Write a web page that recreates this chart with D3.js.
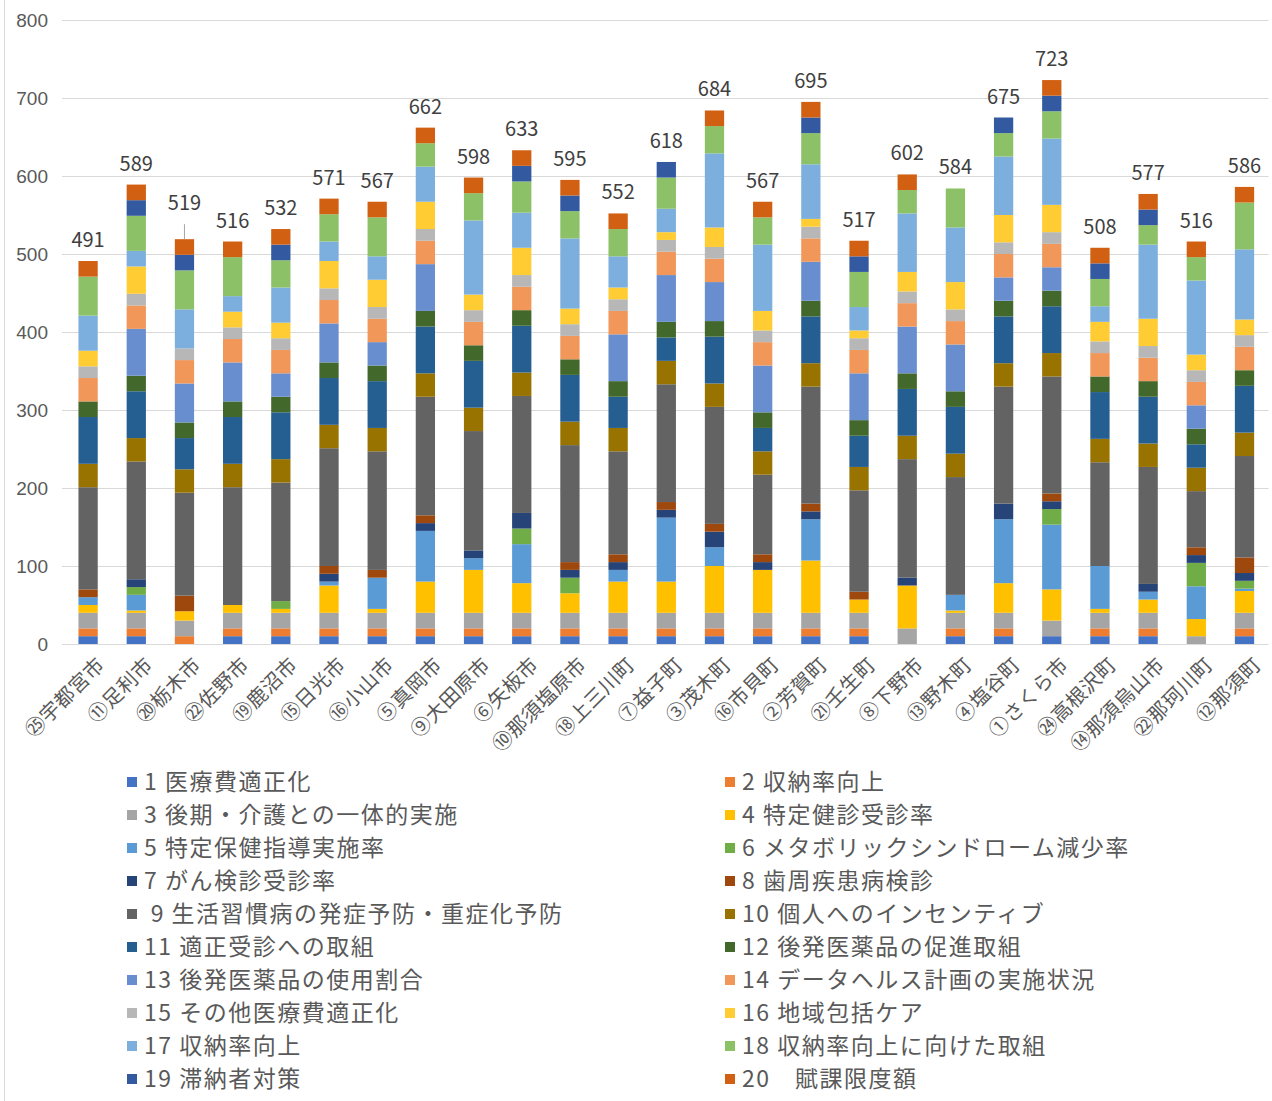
<!DOCTYPE html>
<html lang="ja">
<head>
<meta charset="UTF-8">
<title>市町別 積み上げ得点</title>
<script src="https://cdn.jsdelivr.net/npm/d3@7"></script>
<style>
    body { margin: 0; background: #fff; }
    svg { font-family: "Noto Sans CJK JP", "Noto Sans", sans-serif; }
    .grid line { stroke: #d9d9d9; stroke-width: 1; }
    .grid path { display: none; }
    .grid text { fill: #595959; font-size: 19px; }
    .xlab text { fill: #595959; font-size: 20px; letter-spacing: 0.5px; }
    .total { fill: #404040; font-size: 20px; text-anchor: middle; }
    .legend text { fill: #595959; font-size: 23px; letter-spacing: 1.5px; white-space: pre; }
</style>
</head>
<body>
<svg id="chart" width="1272" height="1101"></svg>
<script>
const cities = ['㉕宇都宮市', '⑪足利市', '⑳栃木市', '㉒佐野市', '⑲鹿沼市', '⑮日光市', '⑯小山市',
    '⑤真岡市', '⑨大田原市', '⑥矢板市', '⑩那須塩原市', '⑱上三川町', '⑦益子町', '③茂木町',
    '⑯市貝町', '②芳賀町', '㉑壬生町', '⑧下野市', '⑬野木町', '④塩谷町', '①さくら市',
    '㉔高根沢町', '⑭那須烏山市', '㉒那珂川町', '⑫那須町'];

// one array per legend item, in bar order
const s01 = [10, 10, 0, 10, 10, 10, 10, 10, 10, 10, 10, 10, 10, 10, 10, 10, 10, 0, 10, 10, 10, 10, 10, 0, 10];
const s02 = [10, 10, 10, 10, 10, 10, 10, 10, 10, 10, 10, 10, 10, 10, 10, 10, 10, 0, 10, 10, 0, 10, 10, 0, 10];
const s03 = [20, 20, 20, 20, 20, 20, 20, 20, 20, 20, 20, 20, 20, 20, 20, 20, 20, 20, 20, 20, 20, 20, 20, 10, 20];
const s04 = [10, 3, 12, 10, 5, 35, 5, 40, 55, 38, 25, 40, 40, 60, 55, 67, 17, 55, 3, 38, 40, 5, 17, 22, 28];
const s05 = [10, 20, 0, 0, 0, 5, 40, 65, 15, 50, 0, 15, 82, 24, 0, 53, 0, 0, 20, 82, 83, 55, 10, 42, 3];
const s06 = [0, 10, 0, 0, 10, 0, 0, 0, 0, 20, 20, 0, 0, 0, 0, 0, 0, 0, 0, 0, 20, 0, 0, 30, 10];
const s07 = [0, 10, 0, 0, 0, 10, 0, 10, 10, 20, 10, 10, 10, 20, 10, 10, 0, 10, 0, 20, 10, 0, 10, 10, 10];
const s08 = [10, 0, 20, 0, 0, 10, 10, 10, 0, 0, 10, 10, 10, 10, 10, 10, 10, 0, 0, 0, 10, 0, 0, 10, 20];
const s09 = [131, 151, 132, 151, 152, 151, 152, 152, 153, 150, 150, 132, 151, 150, 102, 150, 130, 152, 151, 150, 150, 133, 150, 72, 130];
const s10 = [30, 30, 30, 30, 30, 30, 30, 30, 30, 30, 30, 30, 30, 30, 30, 30, 30, 30, 30, 30, 30, 30, 30, 30, 30];
const s11 = [60, 60, 40, 60, 60, 60, 60, 60, 60, 60, 60, 40, 30, 60, 30, 60, 40, 60, 60, 60, 60, 60, 60, 30, 60];
const s12 = [20, 20, 20, 20, 20, 20, 20, 20, 20, 20, 20, 20, 20, 20, 20, 20, 20, 20, 20, 20, 20, 20, 20, 20, 20];
const s13 = [0, 60, 50, 50, 30, 50, 30, 60, 0, 0, 0, 60, 60, 50, 60, 50, 60, 60, 60, 30, 30, 0, 0, 30, 0];
const s14 = [30, 30, 30, 30, 30, 30, 30, 30, 30, 30, 30, 30, 30, 30, 30, 30, 30, 30, 30, 30, 30, 30, 30, 30, 30];
const s15 = [15, 15, 15, 15, 15, 15, 15, 15, 15, 15, 15, 15, 15, 15, 15, 15, 15, 15, 15, 15, 15, 15, 15, 15, 15];
const s16 = [20, 35, 0, 20, 20, 35, 35, 35, 20, 35, 20, 15, 10, 25, 25, 10, 10, 25, 35, 35, 35, 25, 35, 20, 20];
const s17 = [45, 20, 50, 20, 45, 25, 30, 45, 95, 45, 90, 40, 30, 95, 85, 70, 30, 75, 70, 75, 85, 20, 95, 95, 90];
const s18 = [50, 45, 50, 50, 35, 35, 50, 30, 35, 40, 35, 35, 40, 35, 35, 40, 45, 30, 50, 30, 35, 35, 25, 30, 60];
const s19 = [0, 20, 20, 0, 20, 0, 0, 0, 0, 20, 20, 0, 20, 0, 0, 20, 20, 0, 0, 20, 20, 20, 20, 0, 0];
const s20 = [20, 20, 20, 20, 20, 20, 20, 20, 20, 20, 20, 20, 0, 20, 20, 20, 20, 20, 0, 0, 20, 20, 20, 20, 20];

const seriesNames = ['1 医療費適正化', '2 収納率向上', '3 後期・介護との一体的実施', '4 特定健診受診率',
    '5 特定保健指導実施率', '6 メタボリックシンドローム減少率', '7 がん検診受診率', '8 歯周疾患病検診',
    ' 9 生活習慣病の発症予防・重症化予防', '10 個人へのインセンティブ', '11 適正受診への取組', '12 後発医薬品の促進取組',
    '13 後発医薬品の使用割合', '14 データヘルス計画の実施状況', '15 その他医療費適正化', '16 地域包括ケア',
    '17 収納率向上', '18 収納率向上に向けた取組', '19 滞納者対策', '20　賦課限度額'];

const seriesColors = ['#4472C4', '#ED7D31', '#A5A5A5', '#FFC000', '#5B9BD5', '#70AD47', '#264478', '#9E480E',
    '#636363', '#997300', '#255E91', '#43682B', '#698ED0', '#F1975A', '#B7B7B7', '#FFCD33',
    '#7CAFDD', '#8CC168', '#335AA1', '#D26012'];

const yTicks = [0, 100, 200, 300, 400, 500, 600, 700, 800];

const series = [s01, s02, s03, s04, s05, s06, s07, s08, s09, s10, s11, s12, s13, s14, s15, s16, s17, s18, s19, s20];
const keys = series.map((s, j) => 'k' + j);
const rows = cities.map((c, i) => {
    const r = { city: c };
    series.forEach((s, j) => { r['k' + j] = s[i]; });
    return r;
});
const totals = rows.map(r => d3.sum(keys, k => r[k]));

const svg = d3.select('#chart');
const plotLeft = 64, plotRight = 1268.6, plotTop = 20, plotBottom = 644;

const x = d3.scaleBand().domain(cities).range([plotLeft, plotRight]).paddingInner(0.6).paddingOuter(0.3);
const y = d3.scaleLinear().domain([0, 800]).range([plotBottom, plotTop]);
const color = d3.scaleOrdinal().domain(keys).range(seriesColors);

// left edge of chart frame
svg.append('line').attr('x1', 4.5).attr('x2', 4.5).attr('y1', 0).attr('y2', 1101)
    .attr('stroke', '#d9d9d9');

// gridlines + y labels
svg.append('g')
    .attr('class', 'grid')
    .attr('transform', `translate(${plotLeft - 2},0)`)
    .call(d3.axisLeft(y).tickValues(yTicks).tickSize(-(plotRight - plotLeft + 2)).tickPadding(14))
    .call(g => g.selectAll('text').attr('dy', '0.35em'));

// stacked bars
const stacked = d3.stack().keys(keys)(rows);
svg.append('g')
    .selectAll('g')
    .data(stacked)
    .join('g')
    .attr('fill', d => color(d.key))
    .selectAll('rect')
    .data(d => d)
    .join('rect')
    .attr('x', d => x(d.data.city))
    .attr('y', d => y(d[1]))
    .attr('width', x.bandwidth())
    .attr('height', d => y(d[0]) - y(d[1]));

// totals (栃木市 label sits higher with a leader line)
const lifted = { '⑳栃木市': 15 };
svg.append('g')
    .selectAll('text')
    .data(cities)
    .join('text')
    .attr('class', 'total')
    .attr('x', c => x(c) + x.bandwidth() / 2)
    .attr('y', (c, i) => y(totals[i]) - 14 - (lifted[c] || 0))
    .text((c, i) => totals[i]);

Object.keys(lifted).forEach(c => {
    const i = cities.indexOf(c);
    const cx = x(c) + x.bandwidth() / 2;
    svg.append('line')
        .attr('x1', cx).attr('x2', cx)
        .attr('y1', y(totals[i]) - lifted[c]).attr('y2', y(totals[i]))
        .attr('stroke', '#a6a6a6');
});

// x labels, rotated
svg.append('g')
    .attr('class', 'xlab')
    .selectAll('text')
    .data(cities)
    .join('text')
    .attr('transform', c => `translate(${x(c) + x.bandwidth() / 2 + 8},656) rotate(-45)`)
    .attr('text-anchor', 'end')
    .attr('dy', '0.7em')
    .text(c => c);

// legend, two columns
const legend = svg.append('g').attr('class', 'legend');
seriesNames.forEach((name, i) => {
    const lx = i % 2 === 0 ? 127 : 725;
    const ly = 782 + Math.floor(i / 2) * 33;
    legend.append('rect')
        .attr('x', lx).attr('y', ly - 5)
        .attr('width', 10).attr('height', 10)
        .attr('fill', seriesColors[i]);
    legend.append('text')
        .attr('x', lx + 17).attr('y', ly)
        .attr('dy', '0.36em')
        .text(name);
});
</script>
</body>
</html>
